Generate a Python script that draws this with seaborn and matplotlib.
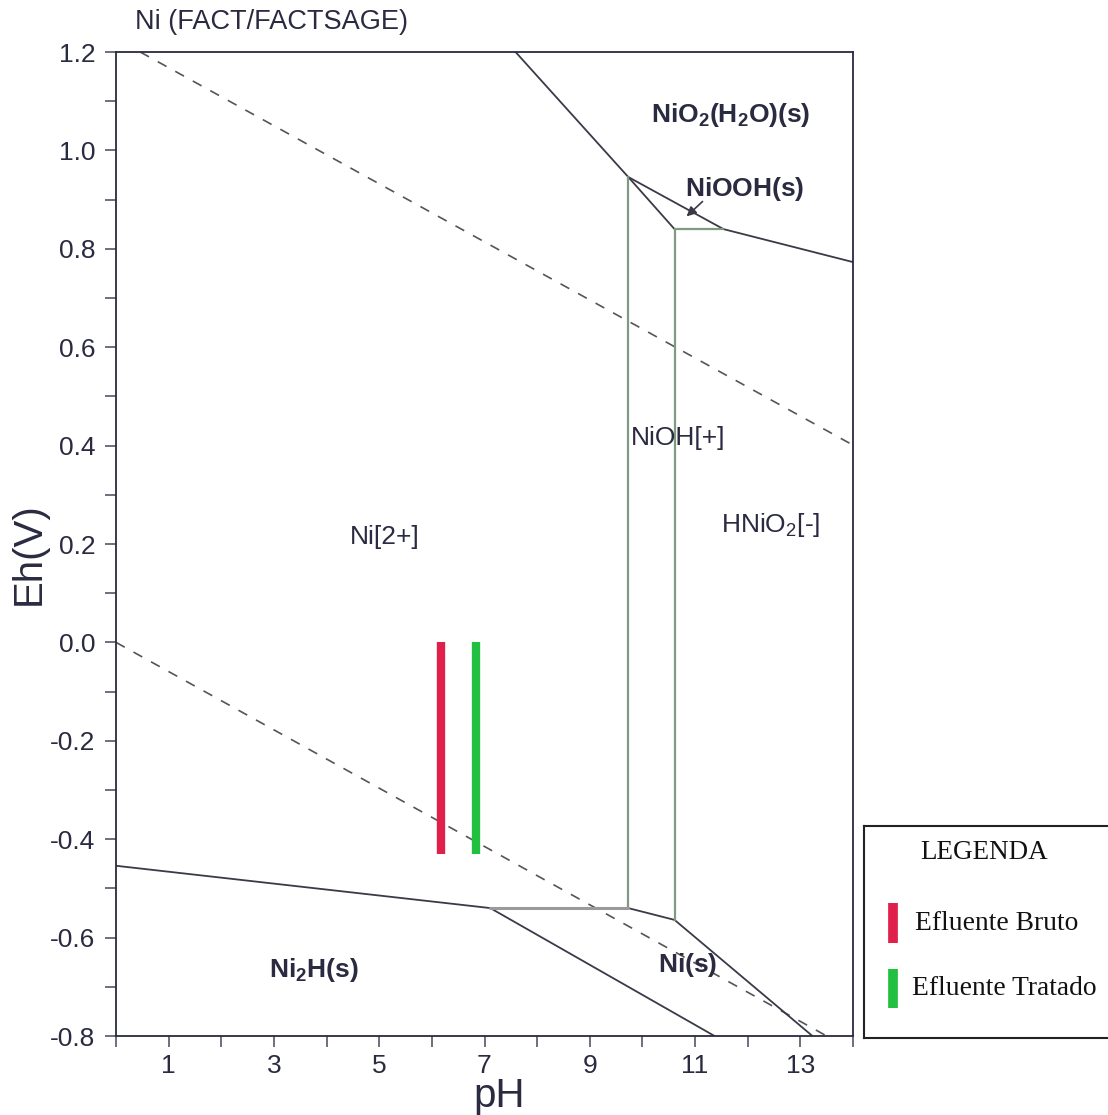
import pandas as pd
import seaborn as sns
import matplotlib.pyplot as plt

# Pourbaix diagram boundaries for Ni
upper_water_ph = [0.46, 14.0]
upper_water_eh = [1.2, 0.401]
lower_water_ph = [0.0, 13.5]
lower_water_eh = [0.0, -0.8]

# solid (dark) boundaries: (pH list, Eh list)
dark_lines = {
    'ni2_nio2': ([7.59, 9.73], [1.2, 0.946]),
    'niooh_nio2': ([9.73, 11.54, 14.0], [0.946, 0.840, 0.773]),
    'niooh_nioh': ([9.73, 10.61], [0.946, 0.840]),
    'ni2_ni2h': ([0.0, 7.11], [-0.454, -0.540]),
    'nioh_ni': ([9.73, 10.61], [-0.540, -0.564]),
    'hnio2_ni': ([10.61, 13.23], [-0.564, -0.8]),
    'ni2h_ni': ([7.11, 11.37], [-0.540, -0.8]),
}
# aqueous/aqueous boundaries (greenish grey)
green_lines = {
    'ni2_nioh': ([9.73, 9.73], [0.946, -0.540]),
    'nioh_hnio2': ([10.61, 10.61], [0.840, -0.564]),
    'niooh_hnio2': ([10.61, 11.54], [0.840, 0.840]),
}
grey_lines = {
    'ni2_ni': ([7.11, 9.73], [-0.540, -0.540]),
}

labels = [
    (r'$\mathbf{NiO_2(H_2O)(s)}$', 11.67, 1.072),
    (r'$\mathbf{NiOOH(s)}$', 11.94, 0.922),
    ('NiOH[+]', 10.68, 0.415),
    (r'HNiO$_2$[-]', 12.43, 0.239),
    ('Ni[2+]', 5.10, 0.214),
    (r'$\mathbf{Ni_2H(s)}$', 3.75, -0.666),
    (r'$\mathbf{Ni(s)}$', 10.86, -0.656),
]

samples = ['Efluente Bruto', 'Efluente Tratado']
sample_ph = [6.18, 6.84]
sample_eh_top = [0.0, 0.0]
sample_eh_bottom = [-0.43, -0.43]
sample_colors = ['#e0204a', '#22c040']

sns.set_style('ticks')
plt.rcParams['font.family'] = ['Liberation Sans', 'DejaVu Sans']
plt.rcParams['mathtext.fontset'] = 'custom'
plt.rcParams['mathtext.rm'] = 'Liberation Sans'
plt.rcParams['mathtext.bf'] = 'Liberation Sans:bold'
plt.rcParams['mathtext.it'] = 'Liberation Sans:italic'
plt.rcParams['mathtext.default'] = 'regular'

txt_color = '#2a2a40'
line_color = '#3a3a48'

fig = plt.figure(figsize=(11.08, 11.15), dpi=100)
ax = fig.add_axes([116 / 1108, 1 - 1036 / 1115, 737 / 1108, 984 / 1115])

# water stability lines
for xs, ys in [(upper_water_ph, upper_water_eh), (lower_water_ph, lower_water_eh)]:
    sns.lineplot(x=xs, y=ys, ax=ax, color='#555555', lw=1.2, estimator=None,
                 linestyle=(0, (6, 6)), sort=False)

for xs, ys in dark_lines.values():
    sns.lineplot(x=xs, y=ys, ax=ax, color=line_color, lw=1.3,
                 estimator=None, sort=False)
for xs, ys in green_lines.values():
    sns.lineplot(x=xs, y=ys, ax=ax, color='#7f9a80', lw=1.6,
                 estimator=None, sort=False)
for xs, ys in grey_lines.values():
    sns.lineplot(x=xs, y=ys, ax=ax, color='#9a9a9a', lw=2.2,
                 estimator=None, sort=False)

# sample bars
for ph, top, bot, col in zip(sample_ph, sample_eh_top, sample_eh_bottom, sample_colors):
    ax.vlines(ph, bot, top, color=col, lw=6)

for text, x, y in labels:
    ax.text(x, y, text, fontsize=19, color=txt_color, ha='center', va='center')

ax.annotate('', xy=(10.80, 0.862), xytext=(11.18, 0.900),
            arrowprops=dict(arrowstyle='-|>', color=line_color, lw=1.2,
                            mutation_scale=14))

ax.set_xlim(0, 14)
ax.set_ylim(-0.8, 1.2)
ax.set_xticks(range(0, 15))
ax.set_xticklabels([str(i) if i % 2 == 1 else '' for i in range(0, 15)])
ax.set_yticks([-0.8, -0.6, -0.4, -0.2, 0.0, 0.2, 0.4, 0.6, 0.8, 1.0, 1.2])
ax.set_yticklabels([f'{v:.1f}' for v in ax.get_yticks()])
ax.set_yticks([v / 10 for v in range(-7, 12, 2)], minor=True)
ax.tick_params(which='both', direction='out', length=8, width=1.2,
               color='#555566', labelsize=19, labelcolor=txt_color)
ax.tick_params(axis='y', pad=7)
ax.tick_params(axis='x', pad=5)
for s in ax.spines.values():
    s.set_color('#2a2a40')
    s.set_linewidth(1.3)

ax.set_xlabel('pH', fontsize=29, color=txt_color)
ax.xaxis.set_label_coords(0.52, -0.042)
ax.set_ylabel('Eh(V)', fontsize=29, color=txt_color)
ax.yaxis.set_label_coords(-0.092, 0.49)

fig.text(135 / 1108, 1 - 22 / 1115, 'Ni (FACT/FACTSAGE)', fontsize=19.5,
         color=txt_color, ha='left', va='center')

# legend box
lax = fig.add_axes([864 / 1108, 1 - 1038 / 1115, 250 / 1108, 212 / 1115])
lax.set_xlim(0, 1)
lax.set_ylim(0, 1)
lax.set_xticks([])
lax.set_yticks([])
for s in lax.spines.values():
    s.set_color('#222222')
    s.set_linewidth(1.5)
serif = ['Liberation Serif', 'DejaVu Serif']
lax.text(0.48, 0.877, 'LEGENDA', family=serif, fontsize=19.5, ha='center',
         va='center', color='#111111')
bar_y = [(0.448, 0.637), (0.142, 0.325)]
text_pos = [(0.205, 0.542), (0.19, 0.232)]
for name, col, (y0, y1), (tx, ty) in zip(samples, sample_colors, bar_y, text_pos):
    lax.vlines(0.116, y0, y1, color=col, lw=7)
    lax.text(tx, ty, name, family=serif, fontsize=19.8, ha='left', va='center',
             color='#111111')

fig.savefig('out.png', dpi=100)
